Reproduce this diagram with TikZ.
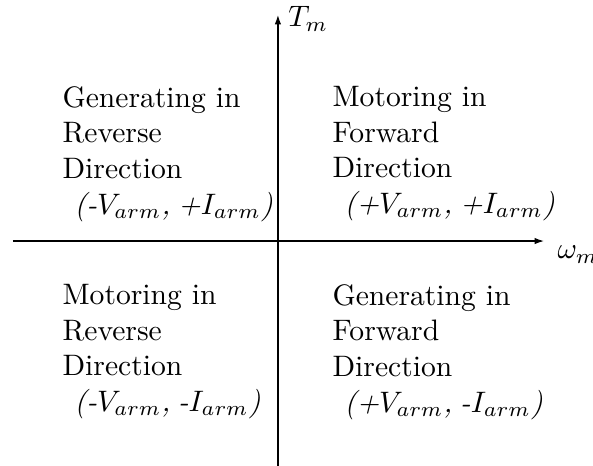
\documentclass[tikz,border=0pt]{standalone}
\usepackage{amsmath,amssymb}
\usepackage{tikz}
\usetikzlibrary{calc,arrows.meta}
\tikzset{
	quadtext/.style={align=left,anchor=north west,inner sep=0pt},
	axisarrow/.style={-{Latex[length=3.2pt,width=2.2pt]}},
}
\newcommand{\armpair}[2]{\hspace*{4pt}\textit{(#1$V_{arm}$,\hspace{2.6pt}#2$I_{arm}$)}}

\begin{document}
\begin{tikzpicture}
				 %\draw[color=gray,step=1mm, help lines,opacity=0.3] (0pt,0pt) grid (70.4mm,55.3mm); %help grids
				\useasboundingbox (0,0) rectangle (70.41mm,55.33mm);
				\coordinate (o) at (33.0mm,26.71mm);
				\coordinate (xl) at (1.54mm,26.71mm);
				\coordinate (xr) at (64.59mm,26.71mm);
				\coordinate (yb) at (33.0mm,0mm);
				\coordinate (yt) at (33.0mm,53.55mm);
				\draw[axisarrow] (xl)--(xr);
				\draw[axisarrow] (yb)--(yt);
				\node[anchor=base west] (tm) at ($(yt)+(0,-1.4mm)$) {$T_m$};
				\node[anchor=base west] (wm) at (64.96mm,24.6mm) {$\omega_m$};
				% quadrants
				\node[quadtext] (genrev) at (7.36mm,45.12mm) {Generating in\\Reverse\\Direction\\\armpair{-}{+}};
				\node[quadtext] (motfwd) at (39.42mm,45.12mm) {Motoring in\\Forward\\Direction\\\armpair{+}{+}};
				\node[quadtext] (motrev) at (7.36mm,21.61mm) {Motoring in\\Reverse\\Direction\\\armpair{-}{-}};
				\node[quadtext] (genfwd) at (39.42mm,21.61mm) {Generating in\\Forward\\Direction\\\armpair{+}{-}};
\end{tikzpicture}
\end{document}
